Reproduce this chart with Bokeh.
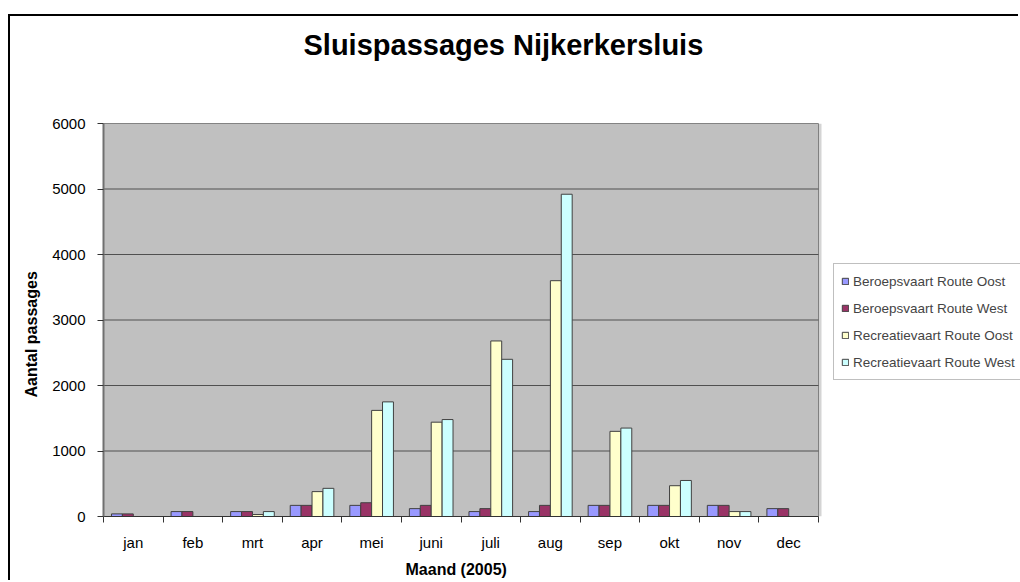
import numpy as np
from bokeh.plotting import figure
from bokeh.models import (Range1d, FixedTicker, Legend, LegendItem, Title, ColumnDataSource)
from bokeh.transform import dodge
from bokeh.embed import file_html
from bokeh.resources import INLINE

months = ["jan", "feb", "mrt", "apr", "mei", "juni", "juli", "aug", "sep", "okt", "nov", "dec"]
beroeps_oost = [40, 75, 75, 170, 170, 120, 75, 75, 170, 170, 170, 120]
beroeps_west = [40, 75, 75, 170, 210, 170, 120, 170, 170, 170, 170, 120]
recreatie_oost = [0, 0, 30, 380, 1620, 1440, 2680, 3600, 1300, 470, 75, 0]
recreatie_west = [0, 0, 75, 430, 1750, 1480, 2400, 4920, 1350, 550, 75, 0]
y_ticks = [0, 1000, 2000, 3000, 4000, 5000, 6000]

series_names = ["Beroepsvaart Route Oost", "Beroepsvaart Route West",
                "Recreatievaart Route Oost", "Recreatievaart Route West"]
series_keys = ["bo", "bw", "ro", "rw"]
colors = ["#9999FF", "#993366", "#FFFFCC", "#CCFFFF"]

n = len(months)
y_max = y_ticks[-1]
centers = [i + 0.5 for i in range(n)]
src = ColumnDataSource(dict(x=centers, bo=beroeps_oost, bw=beroeps_west,
                            ro=recreatie_oost, rw=recreatie_west))

FONT = "Liberation Sans"

# frame extends to the right edge of the canvas so the legend is not clipped
FRAME_LEFT, W = 93, 1010
slot_px = 715 / n
x_end = (W - FRAME_LEFT) / slot_px

p = figure(width=W, height=566, output_backend="svg", toolbar_location=None,
           x_range=Range1d(0, x_end), y_range=Range1d(0, y_max),
           min_border_left=FRAME_LEFT, min_border_right=0, min_border_top=107, min_border_bottom=65,
           background_fill_color="white", border_fill_color="white")
p.styles = {"margin-left": "8px", "margin-top": "14px",
            "border-left": "2px solid black", "border-top": "2px solid black"}
p.outline_line_color = None
p.title.text = ""

# plot area background + shadow + grid lines
p.quad(left=n, right=n + 3 / slot_px, bottom=0, top=y_max, fill_color="#d4d4d4", line_color=None)
p.quad(left=0, right=n, bottom=0, top=y_max, fill_color="#c0c0c0", line_color="#808080", line_width=1)
p.segment(x0=0, x1=n, y0=y_ticks[1:], y1=y_ticks[1:], line_color="#505050", line_width=1)

bw = 0.183
offsets = [-1.5 * bw, -0.5 * bw, 0.5 * bw, 1.5 * bw]
renderers = []
for key, col, off in zip(series_keys, colors, offsets):
    r = p.vbar(x=dodge("x", off, range=p.x_range), top=key, bottom=0, width=bw, source=src,
               fill_color=col, line_color="#404040", line_width=1)
    renderers.append(r)

# axes
p.xaxis.bounds = (0, n)
p.xaxis.ticker = FixedTicker(ticks=centers, minor_ticks=list(range(n + 1)))
p.xaxis.major_label_overrides = {c: m for c, m in zip(centers, months)}
p.xaxis.major_tick_line_color = None
p.xaxis.major_tick_out = 6
p.xaxis.major_tick_in = 0
p.xaxis.minor_tick_line_color = "#333333"
p.xaxis.minor_tick_out = 6
p.xaxis.minor_tick_in = 0
p.xaxis.axis_line_color = "#333333"
p.xaxis.major_label_standoff = 11
p.xaxis.major_label_text_font = FONT
p.xaxis.major_label_text_font_size = "15px"
p.xaxis.major_label_text_color = "black"

p.yaxis.ticker = FixedTicker(ticks=y_ticks, minor_ticks=[])
p.yaxis.major_tick_out = 6
p.yaxis.major_tick_in = 0
p.yaxis.major_tick_line_color = "#333333"
p.yaxis.axis_line_color = "#707070"
p.yaxis.axis_line_width = 2
p.yaxis.major_label_standoff = 12
p.yaxis.major_label_text_font = FONT
p.yaxis.major_label_text_font_size = "15px"
p.yaxis.major_label_text_color = "black"

p.xgrid.grid_line_color = None
p.ygrid.grid_line_color = None

# title (spacer panel nearest the frame, then the title)
spacer = Title(text=" ", text_font_size="12px", standoff=42)
p.add_layout(spacer, "above")
title = Title(text="Sluispassages Nijkerkersluis", text_font=FONT, text_font_size="29px",
              text_font_style="bold", text_color="black", align="left", offset=200,
              vertical_align="bottom", standoff=10)
p.add_layout(title, "above")

# axis titles placed as panel titles so they can be positioned like the reference
xlabel = Title(text="Maand (2005)", text_font=FONT, text_font_size="16px",
               text_font_style="bold", text_color="black", align="left", offset=302,
               vertical_align="bottom", standoff=10)
p.add_layout(xlabel, "below")
ylabel = Title(text="Aantal passages", text_font=FONT, text_font_size="16px",
               text_font_style="bold", text_color="black", align="left", offset=119,
               vertical_align="bottom", standoff=20)
p.add_layout(ylabel, "left")

legend = Legend(items=[LegendItem(label=nm, renderers=[r]) for nm, r in zip(series_names, renderers)],
                location=(730, 136), orientation="vertical")
legend.label_text_font = FONT
legend.label_text_font_size = "13.5px"
legend.label_height = 20
legend.glyph_height = 8
legend.glyph_width = 8
legend.label_standoff = 4
legend.spacing = 7
legend.padding = 7
legend.margin = 0
legend.border_line_color = "#808080"
legend.border_line_width = 1
legend.background_fill_color = "white"
legend.background_fill_alpha = 1
p.add_layout(legend)

open("out.html", "w").write(file_html(p, INLINE))
